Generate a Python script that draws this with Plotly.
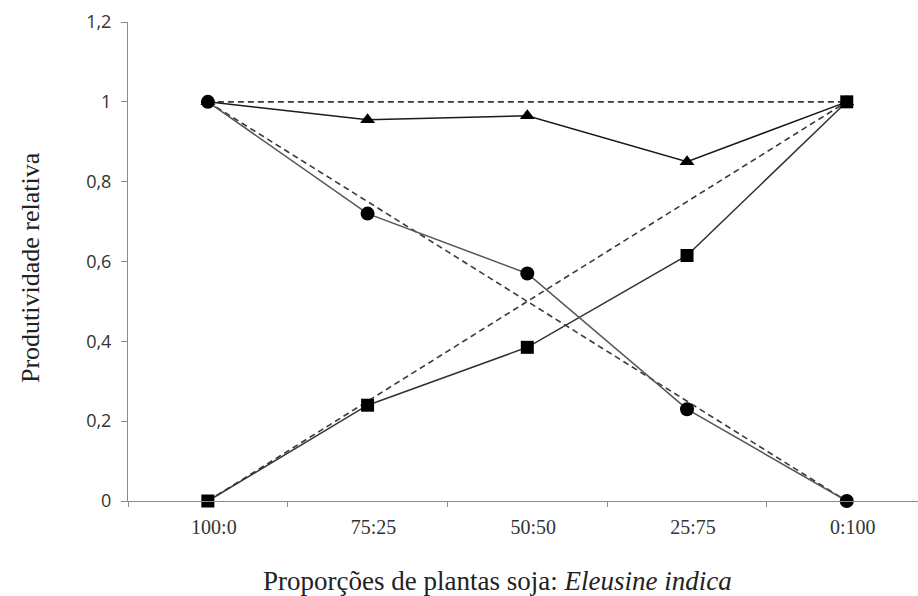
import plotly.graph_objects as go

# Replacement series proportions (soybean : Eleusine indica)
proportions = ["100:0", "75:25", "50:50", "25:75", "0:100"]
x_pos = [0, 1, 2, 3, 4]

# Observed relative productivity
ry_soja = [1.0, 0.72, 0.57, 0.23, 0.0]
ry_eleusine = [0.0, 0.24, 0.385, 0.615, 1.0]
ry_total = [1.0, 0.955, 0.965, 0.85, 1.0]

# Expected (hypothetical) lines with no interference
exp_soja = [1.0, 0.75, 0.5, 0.25, 0.0]
exp_eleusine = [0.0, 0.25, 0.5, 0.75, 1.0]
exp_total = [1.0, 1.0, 1.0, 1.0, 1.0]

y_ticks = [0, 0.2, 0.4, 0.6, 0.8, 1.0, 1.2]
y_tick_text = ["0", "0,2", "0,4", "0,6", "0,8", "1", "1,2"]

SERIF = "Liberation Serif, Times New Roman, DejaVu Serif, serif"
SANS = "Open Sans, Liberation Sans, sans-serif"

fig = go.Figure()

dash_style = dict(color="#3a3a3a", width=1.6, dash="6px,4px")
for ys in (exp_total, exp_soja, exp_eleusine):
    fig.add_trace(go.Scatter(x=x_pos, y=ys, mode="lines", line=dash_style,
                             hoverinfo="skip", showlegend=False, cliponaxis=False))

fig.add_trace(go.Scatter(
    x=x_pos, y=ry_total, mode="lines+markers", name="Total",
    line=dict(color="#1a1a1a", width=1.5),
    marker=dict(symbol="triangle-up", size=13, color="black"),
    showlegend=False, cliponaxis=False))
fig.add_trace(go.Scatter(
    x=x_pos, y=ry_eleusine, mode="lines+markers", name="Eleusine indica",
    line=dict(color="#333333", width=1.5),
    marker=dict(symbol="square", size=13, color="black"),
    showlegend=False, cliponaxis=False))
fig.add_trace(go.Scatter(
    x=x_pos, y=ry_soja, mode="lines+markers", name="Soja",
    line=dict(color="#555555", width=1.5),
    marker=dict(symbol="circle", size=14, color="black"),
    showlegend=False, cliponaxis=False))

fig.update_layout(
    width=918, height=596,
    margin=dict(l=128, r=0, t=22, b=95),
    plot_bgcolor="white", paper_bgcolor="white",
    xaxis=dict(
        range=[-0.5, 4.446],
        tickmode="array", tickvals=x_pos, ticktext=proportions,
        ticks="", showgrid=False, zeroline=False,
        showline=True, linecolor="#8a8a8a", linewidth=1,
        tickfont=dict(family=SERIF, size=20, color="#333333"),
        ticklabelshift=6, ticklabelstandoff=8,
        minor=dict(tickmode="linear", tick0=0.5, dtick=1, ticks="outside",
                   ticklen=5, tickcolor="#8a8a8a", showgrid=False),
    ),
    yaxis=dict(
        range=[0, 1.2],
        tickmode="array", tickvals=y_ticks, ticktext=y_tick_text,
        ticks="outside", ticklen=6, tickcolor="#8a8a8a",
        showgrid=False, zeroline=False,
        showline=True, linecolor="#8a8a8a", linewidth=1,
        tickfont=dict(family=SANS, size=18, color="#333333"),
        ticklabelstandoff=6,
    ),
    annotations=[
        dict(text="Proporções de plantas soja: <i>Eleusine indica</i>",
             xref="paper", yref="paper", x=(497 - 128) / 790, y=-0.168,
             xanchor="center", yanchor="middle", showarrow=False,
             font=dict(family=SERIF, size=27, color="#222222")),
        dict(text="Produtividade relativa",
             xref="paper", yref="paper", x=(30 - 128) / 790, y=(501 - 268) / 479,
             xanchor="center", yanchor="middle", showarrow=False, textangle=-90,
             font=dict(family=SERIF, size=26, color="#222222")),
    ],
)

fig.write_html("out.html")
